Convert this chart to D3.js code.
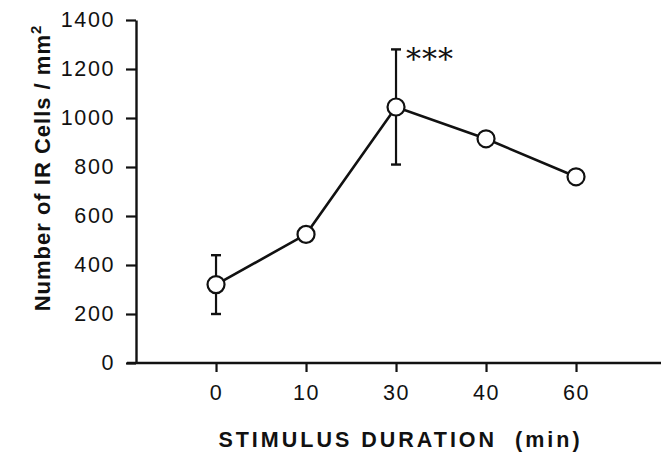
<!DOCTYPE html>
<html>
<head>
<meta charset="utf-8">
<script src="https://cdn.jsdelivr.net/npm/d3@7/dist/d3.min.js"></script>
<style>
  body { margin: 0; background: #fff; }
  text { font-family: "Liberation Sans", Arial, sans-serif; fill: #111; }
</style>
</head>
<body>
<svg width="661" height="460"></svg>
<script>
// data
const durations = ["0", "10", "30", "40", "60"];
const cellCounts = [320, 525, 1045, 915, 760];
const errorBars = [120, 0, 235, 0, 0];
const yTicks = [0, 200, 400, 600, 800, 1000, 1200, 1400];
const marks = ["", "", "***", "", ""];

let svg = d3.select("svg"),
  width = +svg.attr("width"),
  height = +svg.attr("height");

const plotLeft = 136, plotBottom = 363, plotTop = 20;

// scales
const x = d3.scalePoint()
  .domain(durations)
  .range([plotLeft, width])
  .padding(0.9167)
  .align(0.485);

const y = d3.scaleLinear()
  .domain([0, 1400])
  .range([plotBottom, plotTop]);

// y axis
const yAxis = svg.append("g")
  .attr("transform", "translate(" + plotLeft + ",0)")
  .call(d3.axisLeft(y).tickValues(yTicks).tickFormat(d3.format("d"))
    .tickSize(10).tickSizeOuter(0).tickPadding(11));
yAxis.attr("font-family", null).attr("font-size", null);
yAxis.select(".domain").attr("stroke", "#111").attr("stroke-width", 2.4);
yAxis.selectAll(".tick line").attr("stroke", "#111").attr("stroke-width", 2.2);
yAxis.selectAll(".tick text")
  .style("font-size", "21.5px")
  .style("letter-spacing", "1.6px")
  .attr("fill", "#111");

// x axis
const xAxis = svg.append("g")
  .attr("transform", "translate(0," + plotBottom + ")")
  .call(d3.axisBottom(x).tickSize(9).tickSizeOuter(0).tickPadding(13));
xAxis.attr("font-family", null).attr("font-size", null);
xAxis.select(".domain").remove();
xAxis.selectAll(".tick line").attr("stroke", "#111").attr("stroke-width", 2.2);
xAxis.selectAll(".tick text")
  .style("font-size", "21.5px")
  .style("letter-spacing", "1.6px")
  .attr("fill", "#111");

svg.append("line")
  .attr("x1", plotLeft - 9).attr("x2", width)
  .attr("y1", plotBottom).attr("y2", plotBottom)
  .attr("stroke", "#111").attr("stroke-width", 2.4);

// axis titles
svg.append("text")
  .attr("transform", "translate(50," + 168 + ") rotate(-90)")
  .attr("text-anchor", "middle")
  .style("font-size", "22px")
  .style("font-weight", "bold")
  .style("letter-spacing", "1px")
  .html('Number of IR Cells / mm<tspan dy="-9" style="font-size:15px">2</tspan>');

svg.append("text")
  .attr("x", 400.5)
  .attr("y", 447)
  .attr("text-anchor", "middle")
  .style("font-size", "21.5px")
  .style("font-weight", "bold")
  .style("letter-spacing", "3px")
  .style("white-space", "pre")
  .text("STIMULUS DURATION  (min)");

// error bars
const eb = svg.append("g");
durations.forEach((d, i) => {
  if (!errorBars[i]) return;
  const hi = y(cellCounts[i] + errorBars[i]), lo = y(cellCounts[i] - errorBars[i]);
  eb.append("line")
    .attr("x1", x(d)).attr("x2", x(d))
    .attr("y1", hi).attr("y2", lo)
    .attr("stroke", "#111").attr("stroke-width", 2.2);
  [hi, lo].forEach(v => {
    eb.append("line")
      .attr("x1", x(d) - 5).attr("x2", x(d) + 5)
      .attr("y1", v).attr("y2", v)
      .attr("stroke", "#111").attr("stroke-width", 2.4);
  });
});

// line
const line = d3.line()
  .x((v, i) => x(durations[i]))
  .y(v => y(v));
svg.append("path")
  .datum(cellCounts)
  .attr("d", line)
  .attr("fill", "none")
  .attr("stroke", "#111")
  .attr("stroke-width", 2.6);

// points
svg.append("g")
  .selectAll("circle")
  .data(cellCounts)
  .enter()
  .append("circle")
  .attr("cx", (v, i) => x(durations[i]))
  .attr("cy", v => y(v))
  .attr("r", 8.5)
  .attr("fill", "#fff")
  .attr("stroke", "#111")
  .attr("stroke-width", 2.2);

// significance
svg.append("g")
  .selectAll("text")
  .data(marks)
  .enter()
  .append("text")
  .attr("x", (m, i) => x(durations[i]) + 10)
  .attr("y", (m, i) => y(cellCounts[i] + errorBars[i]) + 20)
  .style("font-family", "'DejaVu Serif', serif")
  .style("font-size", "30px")
  .style("letter-spacing", "1px")
  .text(m => m);
</script>
</body>
</html>
